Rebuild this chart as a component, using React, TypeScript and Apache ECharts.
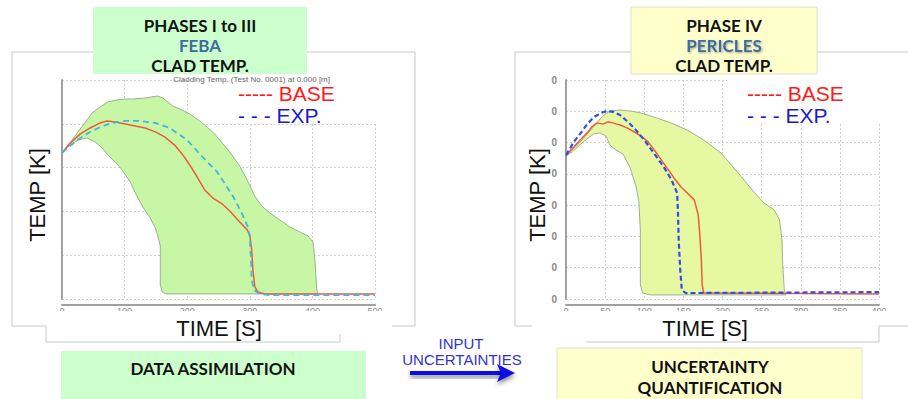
import React, { useEffect, useRef } from "react";
import * as echarts from "echarts";

// ---------- FEBA (phases I to III) ----------
const febaBaseT = [0,13,29,45,61,72,85,101,117,133,149,164,180,193,204,216,228,241,256,268,284,296,300,303,305,308,313,324,500];
const febaBase = [867,912,953,981,1004,1013,1008,999,990,981,963,940,903,858,812,757,698,661,634,602,552,515,492,424,332,255,232,223,223];
const febaExpT = [0,13,29,45,61,80,101,125,149,172,200,220,248,273,287,297,300,302,303,307,316,332,500];
const febaExp = [867,899,935,963,985,1004,1013,1013,1004,981,926,862,780,670,593,529,483,378,287,241,223,218,218];
const febaUpperT = [0,13,24,34,48,61,73,88,101,113,133,152,161,177,192,204,220,232,244,256,268,284,296,308,319,332,348,364,380,393,401,404,407,409];
const febaUpper = [867,912,958,995,1049,1077,1100,1109,1113,1113,1118,1127,1118,1081,1063,1045,1013,985,953,912,871,807,743,670,625,593,561,529,506,488,460,378,241,223];
const febaLowerT = [0,13,26,40,53,64,73,85,96,109,118,129,141,149,153,157,157,160,166,409];
const febaLower = [867,903,926,935,917,890,858,826,789,734,679,620,570,524,488,442,264,232,223,223];

// ---------- PERICLES (phase IV) ----------
const periBaseT = [0,10,18,27,33,40,47,54,60,65,69,78,87,96,105,112,120,129,138,147,155,164,169,171,173,174,176,187,400];
const periBase = [760,786,808,831,850,863,859,866,863,859,856,847,834,821,802,779,751,719,687,658,639,616,569,505,425,345,319,319,316];
const periExpT = [0,10,19,27,36,45,52,61,69,78,87,100,112,125,135,142,143,144,146,148,153,400];
const periExp = [760,802,831,859,882,895,901,898,888,869,847,808,767,722,680,639,585,489,393,329,319,322];
const periUpperT = [0,12,24,37,47,56,69,82,95,112,134,155,176,198,219,240,253,266,273,276,277,279,281];
const periUpper = [757,786,818,856,885,901,904,901,895,882,863,840,808,767,706,642,607,585,553,489,409,329,313];
const periLowerT = [0,8,22,35,43,51,56,64,73,82,89,93,95,95,98,107,281];
const periLower = [757,770,802,827,831,821,792,776,763,719,664,616,521,345,319,313,313];

// ---------- texts ----------
const leftTitle = ["PHASES I to III", "FEBA", "CLAD TEMP."];
const rightTitle = ["PHASE IV", "PERICLES", "CLAD TEMP."];
const legendBase = "----- BASE";
const legendExp = "- - - EXP.";
const xTitle = "TIME [S]";
const yTitle = "TEMP [K]";
const leftBottom = "DATA ASSIMILATION";
const rightBottom = ["UNCERTAINTY", "QUANTIFICATION"];
const arrowText = ["INPUT", "UNCERTAINTIES"];
const plotSubtitle = "Cladding Temp. (Test No. 0001) at 0.000 [m]";

const zip = (a: number[], b: number[]) => a.map((v, i) => [v, b[i]]);

const ARIAL = "'Liberation Sans', Arial, sans-serif";
const CAL = "Lato, 'Open Sans', sans-serif";

function band(xi: number, ut: number[], uv: number[], lt: number[], lv: number[], fill: string) {
  return {
    type: "custom",
    xAxisIndex: xi,
    yAxisIndex: xi,
    silent: true,
    z: 2,
    data: [[0, uv[0]]],
    renderItem: (_p: any, api: any) => {
      const pts: number[][] = [];
      for (let i = 0; i < ut.length; i++) pts.push(api.coord([ut[i], uv[i]]));
      for (let i = lt.length - 1; i >= 0; i--) pts.push(api.coord([lt[i], lv[i]]));
      return {
        type: "polygon",
        shape: { points: pts },
        style: { fill, stroke: "#8c9a86", lineWidth: 0.8 },
      };
    },
  };
}

function line(xi: number, t: number[], v: number[], color: string, dashed: any, width: number) {
  return {
    type: "line",
    xAxisIndex: xi,
    yAxisIndex: xi,
    data: zip(t, v),
    showSymbol: false,
    z: 3,
    lineStyle: { color, width, type: dashed },
  };
}

function txt(x: number, y: number, text: string, size: number, color: string, extra: any = {}) {
  return {
    type: "text",
    x,
    y,
    z: extra.z ?? 20,
    style: {
      text,
      fill: color,
      font: `${extra.bold ? "bold " : ""}${size}px ${extra.family || ARIAL}`,
      align: extra.align || "center",
      verticalAlign: "middle",
      ...(extra.style || {}),
    },
    rotation: extra.rotation || 0,
  };
}

function rect(x: number, y: number, w: number, h: number, fill: string, z: number, stroke?: string) {
  return {
    type: "rect",
    z,
    shape: { x, y, width: w, height: h },
    style: { fill, stroke: stroke || "none", lineWidth: 1 },
  };
}

function pl(points: number[][], z = 6) {
  return { type: "polyline", z, shape: { points }, style: { stroke: "#c8c8c8", lineWidth: 1, fill: "none" } };
}

export default function App() {
  const ref = useRef<HTMLDivElement>(null);
  useEffect(() => {
    if (!ref.current) return;
    const chart = echarts.init(ref.current, undefined, { renderer: "svg" });
    const splitLine = { show: true, lineStyle: { color: "#cfcfcf", type: [2, 2], width: 1 } };
    const axisLine = { show: true, lineStyle: { color: "#a0a0a0", width: 2 } };
    const xLabel = { color: "#8a8a8a", fontSize: 9, margin: 1, fontFamily: ARIAL };
    chart.setOption({
      animation: false,
      backgroundColor: "#ffffff",
      grid: [
        { left: 62, top: 80, width: 313, height: 219 },
        { left: 566, top: 80, width: 313, height: 219 },
      ],
      xAxis: [
        {
          type: "value", gridIndex: 0, min: 0, max: 500, interval: 100, offset: 6,
          axisLine, axisTick: { show: false }, splitLine, axisLabel: xLabel,
        },
        {
          type: "value", gridIndex: 1, min: 0, max: 400, interval: 50, offset: 6,
          axisLine, axisTick: { show: false }, splitLine, axisLabel: xLabel,
        },
      ],
      yAxis: [
        {
          type: "value", gridIndex: 0, min: 200, max: 1200, interval: 200, offset: 8,
          axisLine, axisTick: { show: false }, splitLine,
          axisLabel: { show: false },
        },
        {
          type: "value", gridIndex: 1, min: 300, max: 1000, interval: 100, offset: 7,
          axisLine, axisTick: { show: false }, splitLine,
          axisLabel: {
            color: "#888", fontSize: 10, fontWeight: "bold", margin: 2, fontFamily: ARIAL,
            formatter: (v: number) => String(v).slice(-1),
          },
        },
      ],
      series: [
        band(0, febaUpperT, febaUpper, febaLowerT, febaLower, "#c7f7a4"),
        line(0, febaBaseT, febaBase, "#ee5a3c", "solid", 1.5),
        line(0, febaExpT, febaExp, "#45b4e4", [6, 4], 1.8),
        band(1, periUpperT, periUpper, periLowerT, periLower, "#e7f8a3"),
        line(1, periBaseT, periBase, "#f0583c", "solid", 1.5),
        line(1, periExpT, periExp, "#3050e0", [5, 3], 2.2),
      ],
      graphic: [
        // panel borders
        pl([[12, 326], [12, 52], [415, 52], [415, 326], [392, 326]]),
        pl([[12, 326], [46, 326], [46, 342], [340, 342], [340, 334]]),
        pl([[532, 326], [515, 326], [515, 52], [908, 52]]),
        pl([[586, 342], [879, 342], [879, 326], [908, 326]]),
        // legend backgrounds (hide grid)
        rect(190, 75, 222, 47, "#ffffff", 1),
        rect(727, 75, 178, 49, "#ffffff", 1),
        // cut tick labels
        rect(40, 311, 372, 6, "#ffffff", 4),
        rect(540, 311, 365, 6, "#ffffff", 4),
        // plot subtitle, half hidden
        txt(330, 79, plotSubtitle, 8, "#666", { align: "right", z: 5 }),
        // title boxes
        rect(93, 7, 214, 67, "#ccffcc", 10),
        rect(631, 7, 186, 67, "#ffffcc", 10, "#e0e0c8"),
        txt(200, 25, leftTitle[0], 17, "#111", { bold: true, family: CAL }),
        txt(200, 45.5, leftTitle[1], 17, "#3d6da0", { bold: true, family: CAL }),
        txt(200, 65.5, leftTitle[2], 17, "#111", { bold: true, family: CAL }),
        txt(724, 25, rightTitle[0], 17, "#111", { bold: true, family: CAL }),
        txt(724, 45.5, rightTitle[1], 17, "#3d6da0", {
          bold: true, family: CAL,
          style: { textShadowColor: "rgba(0,0,0,0.35)", textShadowBlur: 2, textShadowOffsetX: 1, textShadowOffsetY: 1 },
        }),
        txt(724, 65.5, rightTitle[2], 17, "#111", { bold: true, family: CAL }),
        // legends
        txt(238, 93.5, legendBase, 21, "#ff1a1a", { align: "left" }),
        txt(238, 115, legendExp, 21, "#1a1acc", { align: "left" }),
        txt(747, 93.5, legendBase, 21, "#ff1a1a", { align: "left" }),
        txt(747, 115, legendExp, 21, "#1a1acc", { align: "left" }),
        // axis titles
        txt(37, 195, yTitle, 22, "#111", { rotation: Math.PI / 2 }),
        txt(537, 195, yTitle, 22, "#111", { rotation: Math.PI / 2 }),
        txt(219, 328, xTitle, 22, "#111"),
        txt(705, 328, xTitle, 22, "#111"),
        // bottom boxes
        rect(61, 351, 305, 50, "#ccffcc", 10),
        rect(557, 348, 305, 53, "#ffffcc", 10, "#e0e0c8"),
        txt(213, 368, leftBottom, 17, "#111", { bold: true, family: CAL }),
        txt(710, 366, rightBottom[0], 17, "#111", { bold: true, family: CAL }),
        txt(710, 387, rightBottom[1], 17, "#111", { bold: true, family: CAL }),
        // arrow
        txt(461, 343, arrowText[0], 15, "#3333cc"),
        txt(462, 359, arrowText[1], 15, "#3333cc"),
        {
          type: "rect", z: 19,
          shape: { x: 410, y: 371, width: 92, height: 4 },
          style: { fill: "#0a0ae6", shadowBlur: 4, shadowColor: "rgba(0,0,0,0.45)", shadowOffsetY: 3 },
        },
        {
          type: "polygon", z: 20,
          shape: { points: [[497, 364], [515, 373], [497, 382], [501, 373]] },
          style: { fill: "#0a0ae6", shadowBlur: 4, shadowColor: "rgba(0,0,0,0.45)", shadowOffsetY: 3 },
        },
      ],
    });
    return () => chart.dispose();
  }, []);
  return (
    <div
      ref={ref}
      style={{ position: "fixed", left: 0, top: 0, width: 908, height: 399, background: "#fff" }}
    />
  );
}
